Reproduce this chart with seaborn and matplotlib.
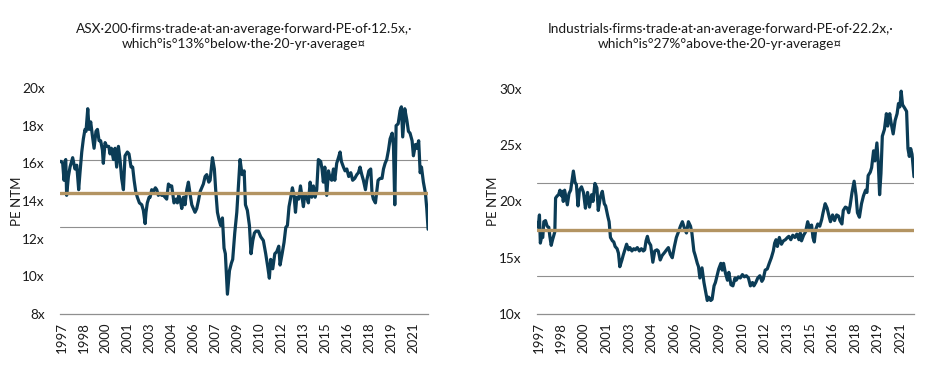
import numpy as np
import pandas as pd
import matplotlib
matplotlib.use('Agg')
import matplotlib.pyplot as plt
import seaborn as sns

sns.set_style('white')
plt.rcParams['font.family'] = ['Lato', 'DejaVu Sans']

# years after the start of 1997
asx_off = [0.00, 0.07, 0.18, 0.27, 0.34, 0.39, 0.45, 0.57, 0.68, 0.86, 1.02, 1.14, 1.27, 1.36, 1.48,
           1.59, 1.70, 1.77, 1.89, 1.98, 2.09, 2.20, 2.32, 2.45, 2.55, 2.66, 2.77, 2.89, 2.95, 3.07,
           3.18, 3.32, 3.41, 3.50, 3.64, 3.75, 3.86, 3.98, 4.09, 4.20, 4.32, 4.43, 4.59, 4.70, 4.84,
           4.95, 5.05, 5.16, 5.27, 5.41, 5.57, 5.68, 5.80, 5.86, 5.95, 6.07, 6.14, 6.25, 6.36, 6.50,
           6.59, 6.70, 6.82, 6.93, 7.05, 7.16, 7.27, 7.39, 7.50, 7.61, 7.77, 7.91, 8.00, 8.09, 8.18,
           8.30, 8.41, 8.52, 8.64, 8.75, 8.86, 8.98, 9.09, 9.20, 9.32, 9.43, 9.55, 9.66, 9.77, 9.89,
           10.00, 10.14, 10.23, 10.39, 10.52, 10.61, 10.73, 10.84, 10.95, 11.07, 11.18, 11.27, 11.41,
           11.55, 11.68, 11.77, 11.91, 12.05, 12.18, 12.27, 12.41, 12.55, 12.64, 12.77, 12.91, 13.02,
           13.14, 13.25, 13.36, 13.52, 13.68, 13.86, 14.02, 14.16, 14.27, 14.36, 14.50, 14.64, 14.77,
           14.91, 15.00, 15.14, 15.27, 15.39, 15.50, 15.61, 15.73, 15.84, 15.95, 16.05, 16.14, 16.27,
           16.39, 16.50, 16.59, 16.68, 16.82, 16.93, 17.05, 17.16, 17.27, 17.39, 17.50, 17.61, 17.77,
           17.86, 17.95, 18.05, 18.18, 18.30, 18.41, 18.52, 18.64, 18.73, 18.86, 18.98, 19.09, 19.18,
           19.32, 19.43, 19.55, 19.68, 19.82, 19.95, 20.09, 20.23, 20.34, 20.45, 20.57, 20.68, 20.82,
           20.91, 21.05, 21.18, 21.27, 21.36, 21.50, 21.59, 21.68, 21.82, 21.95, 22.05, 22.16, 22.27,
           22.39, 22.50, 22.64, 22.73, 22.82, 22.91, 23.05, 23.18, 23.27, 23.36, 23.50, 23.64, 23.75,
           23.86, 24.00, 24.09, 24.23, 24.32, 24.45, 24.55, 24.64, 24.77, 24.91, 25.00, 25.09]
asx_pe = [16.1, 16.1, 16.0, 15.1, 16.1, 16.2, 14.3, 15.3, 15.8, 16.3, 15.7, 15.9, 14.6, 15.5, 16.6,
          17.3, 17.8, 17.7, 18.9, 17.8, 18.2, 17.5, 16.8, 17.7, 17.8, 17.2, 17.2, 16.7, 16.0, 17.1,
          16.9, 16.9, 16.5, 16.8, 16.2, 16.8, 15.8, 16.9, 16.2, 15.2, 14.6, 16.4, 16.6, 16.5, 15.8,
          15.8, 15.1, 14.5, 14.2, 13.9, 13.8, 13.5, 12.8, 13.4, 13.9, 14.2, 14.2, 14.6, 14.5, 14.7,
          14.6, 14.3, 14.4, 14.3, 14.3, 14.2, 14.1, 14.9, 14.8, 14.8, 13.9, 14.1, 13.9, 14.3, 14.1,
          13.6, 14.2, 13.8, 14.6, 15.0, 14.4, 13.8, 13.6, 13.4, 13.6, 14.0, 14.5, 14.7, 14.9, 15.3,
          15.4, 15.0, 15.1, 16.3, 15.7, 14.6, 13.4, 13.0, 12.7, 13.1, 11.5, 11.2, 9.05,
          10.3, 10.7, 10.9, 12.3, 13.4, 15.0, 16.2, 15.4, 15.6, 13.8, 13.5, 12.7, 11.2,
          11.9, 12.3, 12.4, 12.4, 12.1, 11.9, 11.2, 10.5, 9.9, 10.9, 10.4, 11.2, 11.3,
          11.6, 10.6, 11.2, 11.8, 12.6, 12.7, 13.7, 14.2, 14.7, 14.3, 13.4, 14.2, 14.1,
          14.8, 14.2, 13.7, 14.3, 14.2, 13.9, 15.0, 14.2, 14.8, 14.2, 14.6, 16.2, 16.1,
          15.7, 15.0, 15.8, 14.3, 15.6, 15.2, 15.1, 15.7, 15.1, 16.0, 16.3, 16.6, 16.1,
          15.8, 15.6, 15.7, 15.3, 15.5, 15.1, 15.2, 15.4, 15.5, 15.8, 15.4, 15.1, 14.6,
          15.1, 15.6, 15.7, 14.4, 14.1, 13.9, 14.5, 15.1, 15.2, 15.2, 15.7, 16.0, 16.2,
          16.7, 17.3, 17.6, 16.9, 13.8, 18.0, 18.1, 18.8, 19.0, 17.4, 18.9, 18.3, 17.7,
          17.6, 17.2, 16.4, 17.0, 16.8, 17.2, 15.5, 15.8, 15.0, 14.4, 13.6, 12.5]

ind_off = [0.00, 0.07, 0.16, 0.22, 0.31, 0.38, 0.45, 0.56, 0.67, 0.78, 0.85, 0.94, 1.03, 1.12, 1.18,
           1.23, 1.34, 1.43, 1.52, 1.61, 1.67, 1.74, 1.83, 2.01, 2.12, 2.23, 2.41, 2.52, 2.61, 2.72,
           2.81, 2.95, 3.08, 3.21, 3.28, 3.35, 3.48, 3.62, 3.71, 3.84, 3.97, 4.06, 4.20, 4.33, 4.46,
           4.55, 4.69, 4.78, 4.87, 5.00, 5.09, 5.18, 5.31, 5.40, 5.49, 5.63, 5.71, 5.80, 5.94, 6.07,
           6.16, 6.29, 6.41, 6.52, 6.65, 6.79, 6.92, 7.05, 7.14, 7.23, 7.32, 7.41, 7.54, 7.68, 7.81,
           7.95, 8.04, 8.17, 8.30, 8.48, 8.59, 8.71, 8.84, 8.97, 9.11, 9.24, 9.38, 9.51, 9.64, 9.78,
           9.91, 10.04, 10.18, 10.27, 10.40, 10.49, 10.63, 10.71, 10.80, 10.94, 11.07, 11.21, 11.29,
           11.38, 11.52, 11.61, 11.74, 11.83, 11.96, 12.05, 12.19, 12.28, 12.37, 12.50, 12.63, 12.72,
           12.86, 12.99, 13.13, 13.21, 13.35, 13.48, 13.62, 13.75, 13.88, 14.02, 14.15, 14.29, 14.38,
           14.51, 14.64, 14.78, 14.91, 15.00, 15.13, 15.27, 15.40, 15.54, 15.67, 15.76, 15.85, 15.94,
           16.07, 16.21, 16.34, 16.47, 16.61, 16.70, 16.83, 16.96, 17.10, 17.23, 17.37, 17.46, 17.54,
           17.68, 17.81, 17.95, 18.08, 18.21, 18.30, 18.39, 18.48, 18.62, 18.75, 18.88, 18.97, 19.11,
           19.24, 19.38, 19.46, 19.60, 19.73, 19.87, 20.00, 20.09, 20.22, 20.31, 20.45, 20.58, 20.67,
           20.76, 20.89, 21.03, 21.16, 21.25, 21.38, 21.52, 21.65, 21.79, 21.88, 21.96, 22.10, 22.19,
           22.32, 22.41, 22.54, 22.63, 22.72, 22.81, 22.90, 23.04, 23.17, 23.26, 23.39, 23.48, 23.62,
           23.75, 23.88, 23.97, 24.06, 24.15, 24.24, 24.38, 24.51, 24.60, 24.69, 24.78, 24.87, 25.00]
ind_pe = [18.1, 17.7, 18.8, 16.3, 16.9, 16.8, 18.2, 18.3, 17.8, 17.7, 16.9, 16.1, 16.6, 17.0, 17.3,
          20.3, 20.5, 20.6, 21.0, 20.5, 20.9, 20.0, 21.0, 19.7, 20.7, 21.0, 22.7, 21.7, 21.5, 19.6,
          21.0, 21.3, 20.8, 19.4, 20.2, 20.8, 19.5, 20.6, 20.0, 21.6, 21.2, 19.2, 20.4, 20.9, 19.8,
          19.6, 18.7, 18.2, 16.8, 16.5, 16.4, 16.0, 15.8, 15.4, 14.2, 14.8, 15.2, 15.6, 16.2, 15.7,
          15.9, 15.6, 15.8, 15.7, 15.9, 15.6, 15.8, 15.6, 15.7, 16.5, 16.9, 16.4, 16.1, 14.6, 15.6,
          15.7, 15.6, 14.8, 15.2, 15.5, 15.7, 15.9, 15.3, 15.0, 16.0, 16.8, 17.3, 17.8, 18.2, 17.6,
          17.2, 18.2, 17.8, 17.2, 15.6, 15.2, 14.5, 14.2, 13.2, 14.1, 12.8, 11.8, 11.2,
          11.5, 11.2, 11.3, 12.5, 12.8, 13.5, 14.0, 14.5, 13.9, 14.5, 13.6, 13.0, 13.7,
          12.6, 12.5, 13.2, 13.0, 13.3, 13.2, 13.5, 13.3, 13.4, 13.2, 12.5, 12.8, 12.5,
          12.8, 13.2, 13.4, 12.9, 13.1, 13.9, 14.0, 14.5, 15.0, 15.6, 16.3, 16.6, 16.0,
          16.8, 16.2, 16.5, 16.6, 16.8, 16.9, 16.6, 17.0, 16.8, 17.1, 16.6, 17.2, 16.5,
          17.0, 17.3, 18.2, 17.6, 17.9, 16.8, 16.4, 17.5, 18.0, 17.8, 18.4, 19.0, 19.8,
          19.4, 18.6, 18.2, 18.8, 18.3, 18.8, 18.7, 18.3, 18.0, 19.2, 19.5, 19.4, 19.0,
          19.6, 20.8, 21.8, 20.5, 19.0, 18.6, 19.8, 20.5, 21.0, 20.8, 22.3, 22.6, 23.0,
          24.5, 23.6, 25.2, 23.5, 20.6, 22.5, 25.8, 26.4, 27.8, 26.7, 27.8, 27.0, 26.0,
          27.2, 27.8, 28.7, 28.4, 29.8, 28.6, 28.3, 28.0, 24.7, 24.0, 24.7, 24.2, 22.2]

# 20-yr average and +/- 1 std lines
asx_avg, asx_hi, asx_lo = 14.4, 16.2, 12.6
ind_avg, ind_hi, ind_lo = 17.5, 21.6, 13.4

tick_labels = ['1997', '1998', '2000', '2001', '2003', '2004', '2006', '2007', '2009',
               '2010', '2012', '2013', '2015', '2016', '2018', '2019', '2021']
asx_yticks = [8, 10, 12, 14, 16, 18, 20]
ind_yticks = [10, 15, 20, 25, 30]

titles = ['ASX\u00b7200\u00b7firms\u00b7trade\u00b7at\u00b7an\u00b7average\u00b7forward\u00b7PE\u00b7of\u00b712.5x,\u00b7\n'
          'which\u00b0is\u00b013%\u00b0below\u00b7the\u00b720-yr\u00b7average\u00a4',
          'Industrials\u00b7firms\u00b7trade\u00b7at\u00b7an\u00b7average\u00b7forward\u00b7PE\u00b7of\u00b722.2x,\u00b7\n'
          'which\u00b0is\u00b027%\u00b0above\u00b7the\u00b720-yr\u00b7average\u00a4']

NAVY = '#0b3c56'
TAN = '#b39462'
GREY = '#8f8f8f'

asx = pd.DataFrame({'year': 1997 + np.array(asx_off), 'pe': asx_pe})
ind = pd.DataFrame({'year': 1997 + np.array(ind_off), 'pe': ind_pe})
tick_pos = 1997.1 + 1.5 * np.arange(len(tick_labels))

fig = plt.figure(figsize=(9.28, 3.66), dpi=100)
ax1 = fig.add_axes([0.0647, 0.1421, 0.3966, 0.6175])
ax2 = fig.add_axes([0.5787, 0.1421, 0.4062, 0.6150])

panels = [(ax1, asx, asx_avg, asx_hi, asx_lo, asx_yticks, (8, 20)),
          (ax2, ind, ind_avg, ind_hi, ind_lo, ind_yticks, (10, 30))]

for ax, df, avg, hi, lo, yt, ylim in panels:
    for lvl in (hi, lo):
        ax.axhline(lvl, color=GREY, lw=0.8, zorder=1)
    sns.lineplot(data=df, x='year', y='pe', ax=ax, color=NAVY, lw=2.3, zorder=2)
    ax.axhline(avg, color=TAN, lw=2.4, zorder=3)
    ax.set_xlim(df['year'].min(), df['year'].max())
    ax.set_ylim(*ylim)
    for s in ('top', 'right', 'left'):
        ax.spines[s].set_visible(False)
    ax.spines['bottom'].set_color(GREY)
    ax.spines['bottom'].set_linewidth(0.9)
    ax.set_yticks(yt)
    ax.set_yticklabels([f'{v}x' for v in yt])
    ax.set_xticks(tick_pos)
    ax.set_xticklabels(tick_labels)
    ax.tick_params(axis='y', length=0, pad=11, labelsize=9.8, labelcolor='#1a1a1a')
    ax.tick_params(axis='x', length=0, pad=6, labelsize=9.5, labelcolor='#1a1a1a',
                   labelrotation=90)
    ax.set_xlabel('')
    ax.set_ylabel('PE NTM', fontsize=9.5, color='#1a1a1a')
    ax.yaxis.set_label_coords(-0.10, 0.5)

fig.text(0.263, 0.9, titles[0], ha='center', va='center', fontsize=9.8,
         color='#1a1a1a', linespacing=1.35)
fig.text(0.776, 0.9, titles[1], ha='center', va='center', fontsize=9.8,
         color='#1a1a1a', linespacing=1.35)

fig.savefig('out.png', dpi=100)
